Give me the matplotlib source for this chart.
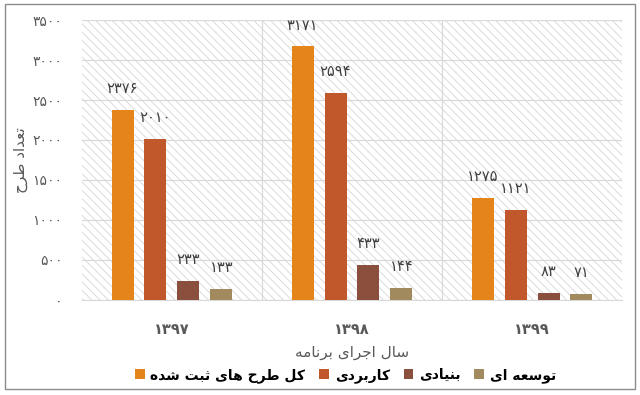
import numpy as np
import matplotlib
matplotlib.use("Agg")
import matplotlib.pyplot as plt
from matplotlib.patches import Rectangle

years = ["1397", "1398", "1399"]
series_names = ["کل طرح های ثبت شده", "کاربردی", "بنیادی", "توسعه ای"]
total = [2376, 3171, 1275]
applied = [2010, 2594, 1121]
basic = [233, 433, 83]
developmental = [133, 144, 71]
colors = ["#E6841C", "#C0582B", "#8B503D", "#A28A5F"]
yticks = [0, 500, 1000, 1500, 2000, 2500, 3000, 3500]

# arabic presentation forms: (isolated base, joins to next letter)
BASE = {
    "ا": (0xFE8D, False), "ب": (0xFE8F, True), "ت": (0xFE95, True),
    "ث": (0xFE99, True), "ج": (0xFE9D, True), "ح": (0xFEA1, True),
    "د": (0xFEA9, False), "ر": (0xFEAD, False), "س": (0xFEB1, True),
    "ش": (0xFEB5, True), "ط": (0xFEC1, True), "ع": (0xFEC9, True),
    "ل": (0xFEDD, True), "م": (0xFEE1, True), "ن": (0xFEE5, True),
    "ه": (0xFEE9, True), "و": (0xFEED, False), "ک": (0xFB8E, True),
    "ی": (0xFBFC, True),
}


def shape(text):
    out = []
    for i, ch in enumerate(text):
        if ch not in BASE:
            out.append(ch)
            continue
        base, dual = BASE[ch]
        prev = text[i - 1] if i > 0 else ""
        nxt = text[i + 1] if i + 1 < len(text) else ""
        jp = prev in BASE and BASE[prev][1]
        jn = dual and nxt in BASE
        if jp and jn:
            out.append(chr(base + 3))
        elif jp:
            out.append(chr(base + 1))
        elif jn:
            out.append(chr(base + 2))
        else:
            out.append(chr(base))
    return "".join(out)[::-1]


def fa(n):
    return "".join(chr(0x06F0 + int(c)) for c in str(n))


plt.rcParams["font.family"] = ["DejaVu Sans"]
plt.rcParams["hatch.linewidth"] = 0.6

fig = plt.figure(figsize=(6.4, 3.95), dpi=100)
ax = fig.add_axes([0.128, 0.241, 0.844, 0.708])

bg = Rectangle((0, 0), 1, 1, transform=ax.transAxes, facecolor="white",
               edgecolor="#d6d6d6", lw=0, hatch="\\\\\\\\", zorder=0)
ax.add_patch(bg)

x = np.arange(len(years))
width = 0.122
step = 0.183
data = [total, applied, basic, developmental]
for i, (vals, name, c) in enumerate(zip(data, series_names, colors)):
    pos = x + (i - 1.5) * step
    bars = ax.bar(pos, vals, width, color=c, label=shape(name), zorder=3)
    for b, v in zip(bars, vals):
        ax.annotate(fa(v), (b.get_x() + b.get_width() / 2, v),
                    xytext=(0, 10), textcoords="offset points",
                    ha="center", va="bottom", fontsize=10.5, color="#404040")

ax.set_xlim(-0.5, 2.5)
ax.set_ylim(0, 3500)
ax.set_yticks(yticks)
ax.set_yticklabels([fa(v) for v in yticks], fontsize=10, color="#595959")
ax.set_xticks(x)
ax.set_xticklabels([fa(y) for y in years], fontsize=10.5, color="#595959",
                   fontweight="bold")
ax.set_xticks([0.5, 1.5], minor=True)
ax.tick_params(which="both", length=0)
ax.tick_params(axis="x", pad=16)
ax.tick_params(axis="y", pad=14)
ax.grid(axis="y", color="#d9d9d9", lw=0.9, zorder=1)
ax.grid(axis="x", which="minor", color="#d9d9d9", lw=0.9, zorder=1)
for s in ["left", "right", "top"]:
    ax.spines[s].set_visible(False)
ax.spines["bottom"].set_color("#d9d9d9")
ax.set_axisbelow(True)

ax.set_xlabel(shape("سال اجرای برنامه"), fontsize=11, color="#595959", labelpad=6)
ax.set_ylabel(shape("تعداد طرح"), fontsize=11, color="#595959")
ax.yaxis.set_label_coords(-0.1, 0.5)

leg = fig.legend(loc="center", bbox_to_anchor=(0.54, 0.05), ncol=4, frameon=False,
                 prop={"size": 10, "weight": "bold"}, handlelength=0.7,
                 handleheight=0.7, handletextpad=0.4, columnspacing=1.0)

fig.patches.append(Rectangle((0.008, 0.015), 0.984, 0.975, transform=fig.transFigure,
                             fill=False, edgecolor="#8c8c8c", lw=1))

fig.savefig("out.png", dpi=100)
